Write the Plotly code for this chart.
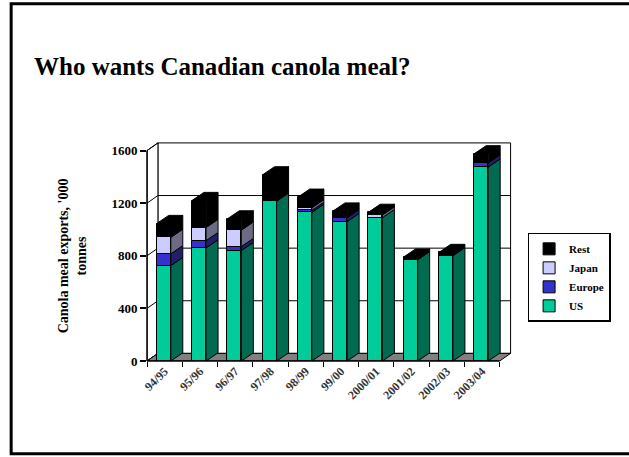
import plotly.graph_objects as go

categories = ["94/95", "95/96", "96/97", "97/98", "98/99", "99/00",
              "2000/01", "2001/02", "2002/03", "2003/04"]
us = [725, 860, 840, 1215, 1130, 1060, 1090, 770, 800, 1475]
europe = [90, 55, 30, 0, 15, 30, 0, 0, 0, 30]
japan = [125, 100, 125, 0, 20, 0, 20, 0, 0, 0]
rest = [105, 205, 85, 200, 80, 50, 20, 20, 25, 70]
y_ticks = [0, 400, 800, 1200, 1600]

series = [
    ("US", us, "#00CC99", "#006B50", 4),
    ("Europe", europe, "#3333CC", "#1F1F6B", 3),
    ("Japan", japan, "#CCCCFF", "#6B6B85", 2),
    ("Rest", rest, "#000000", "#000000", 1),
]

SERIF = "Liberation Serif, Times New Roman, serif"
n = len(categories)
pos = list(range(n))
BAR_W, BAR_SHIFT = 0.40, -0.025
BDX, BDY = 0.34, 62          # bar depth offsets
WDX, WDY = 0.31, 58          # wall depth offsets
X0, X1 = -0.5, n - 0.5
XMAX, YMAX = X1 + 0.35, 1665
YTOP = y_ticks[-1]

# pixel geometry of the plot area
L, R_PX = 147.0, 512.4
B_PX, T_PX = 361.5, 141.9
W, H = 629, 457
pw, ph = R_PX - L, B_PX - T_PX


def px_x(px):
    return (px - L) / pw


def px_y(py):
    return (B_PX - py) / ph


fig = go.Figure()
bases = [0] * n
for name, vals, fc, sc, rank in series:
    fig.add_trace(go.Bar(
        x=[p + BAR_SHIFT for p in pos], y=vals, base=list(bases), width=BAR_W,
        marker=dict(color=fc, line=dict(color="black", width=1)),
        name=name, legendrank=rank))
    xs, ys = [], []
    for i, p in enumerate(pos):
        v = vals[i]
        if v <= 0:
            continue
        xr = p + BAR_SHIFT + BAR_W / 2
        b = bases[i]
        t = b + v
        xs += [xr, xr + BDX, xr + BDX, xr, xr, None]
        ys += [b, b + BDY, t + BDY, t, b, None]
    fig.add_trace(go.Scatter(x=xs, y=ys, mode="lines", fill="toself",
                             fillcolor=sc, line=dict(color="black", width=1),
                             showlegend=False, hoverinfo="skip"))
    bases = [bases[i] + vals[i] for i in range(n)]

# top faces (colour of top series)
xs, ys = [], []
for i, p in enumerate(pos):
    xl = p + BAR_SHIFT - BAR_W / 2
    xr = p + BAR_SHIFT + BAR_W / 2
    t = bases[i]
    xs += [xl, xl + BDX, xr + BDX, xr, xl, None]
    ys += [t, t + BDY, t + BDY, t, t, None]
fig.add_trace(go.Scatter(x=xs, y=ys, mode="lines", fill="toself",
                         fillcolor=series[-1][2], line=dict(color="black", width=1),
                         showlegend=False, hoverinfo="skip"))

shapes = []
# back wall
shapes.append(dict(type="rect", x0=X0 + WDX, x1=X1 + WDX, y0=WDY, y1=YTOP + WDY,
                   xref="x", yref="y", fillcolor="white",
                   line=dict(color="black", width=1), layer="below"))
for v in y_ticks[1:-1]:
    shapes.append(dict(type="line", x0=X0 + WDX, x1=X1 + WDX, y0=v + WDY, y1=v + WDY,
                       xref="x", yref="y", line=dict(color="black", width=1),
                       layer="below"))
# left wall
shapes.append(dict(type="path",
                   path=f"M{X0},0 L{X0 + WDX},{WDY} L{X0 + WDX},{YTOP + WDY} L{X0},{YTOP} Z",
                   xref="x", yref="y", fillcolor="white",
                   line=dict(color="black", width=1), layer="below"))
for v in y_ticks:
    shapes.append(dict(type="line", x0=X0, x1=X0 + WDX, y0=v, y1=v + WDY,
                       xref="x", yref="y", line=dict(color="black", width=1),
                       layer="below"))
# floor
shapes.append(dict(type="path",
                   path=f"M{X0},0 L{X1},0 L{X1 + WDX},{WDY} L{X0 + WDX},{WDY} Z",
                   xref="x", yref="y", fillcolor="#808080",
                   line=dict(color="black", width=1), layer="below"))
# front axis lines
shapes.append(dict(type="line", xref="paper", yref="y", x0=0, x1=0, y0=0, y1=YTOP,
                   line=dict(color="black", width=1.5), layer="above"))
shapes.append(dict(type="line", xref="x", yref="paper", x0=X0, x1=X1, y0=0, y1=0,
                   line=dict(color="black", width=1.5), layer="above"))
# outer frame
shapes.append(dict(type="rect", xref="paper", yref="paper",
                   x0=px_x(11), x1=px_x(645), y0=px_y(454.5), y1=px_y(3.3),
                   line=dict(color="black", width=3), fillcolor="rgba(0,0,0,0)",
                   layer="above"))

fig.update_layout(
    width=W, height=H,
    margin=dict(l=L, r=W - R_PX, t=T_PX, b=H - B_PX, autoexpand=False),
    paper_bgcolor="white", plot_bgcolor="white",
    barmode="overlay", bargap=0,
    showlegend=True,
    shapes=shapes,
    font=dict(family=SERIF, color="black"),
    xaxis=dict(range=[X0, XMAX], tickmode="array", tickvals=pos, ticktext=categories,
               tickangle=-45, ticks="", showgrid=False, zeroline=False, showline=False,
               tickfont=dict(family=SERIF, size=12, color="#333333", weight="bold"),
               minor=dict(tickmode="array", tickvals=[p - 0.5 for p in pos] + [X1],
                          ticks="outside", ticklen=5, tickcolor="black", tickwidth=1)),
    yaxis=dict(range=[0, YMAX], tickmode="array", tickvals=y_ticks,
               ticks="outside", ticklen=6, tickcolor="black", tickwidth=1.5,
               showgrid=False, zeroline=False, showline=False,
               tickfont=dict(family=SERIF, size=13, color="black", weight="bold")),
    legend=dict(x=px_x(528), y=px_y(233), xanchor="left", yanchor="top",
                bordercolor="black", borderwidth=1.5, bgcolor="white",
                traceorder="normal", tracegroupgap=0, itemwidth=30,
                font=dict(family=SERIF, size=11, color="black", weight="bold")),
    annotations=[
        dict(text="<b>Who wants Canadian canola meal?</b>", xref="paper", yref="paper",
             x=px_x(32), y=px_y(66.5), xanchor="left", yanchor="middle",
             showarrow=False, font=dict(family=SERIF, size=25, color="black")),
        dict(text="<b>Canola meal exports, '000<br>tonnes</b>", xref="paper", yref="paper",
             x=px_x(72.5), y=px_y(256), xanchor="center", yanchor="middle",
             textangle=-90, showarrow=False, align="center",
             font=dict(family=SERIF, size=14, color="black")),
    ],
)

fig.write_html("out.html", config={"displayModeBar": False},
               post_script="document.body.style.margin='0';document.body.style.overflow='hidden';")
